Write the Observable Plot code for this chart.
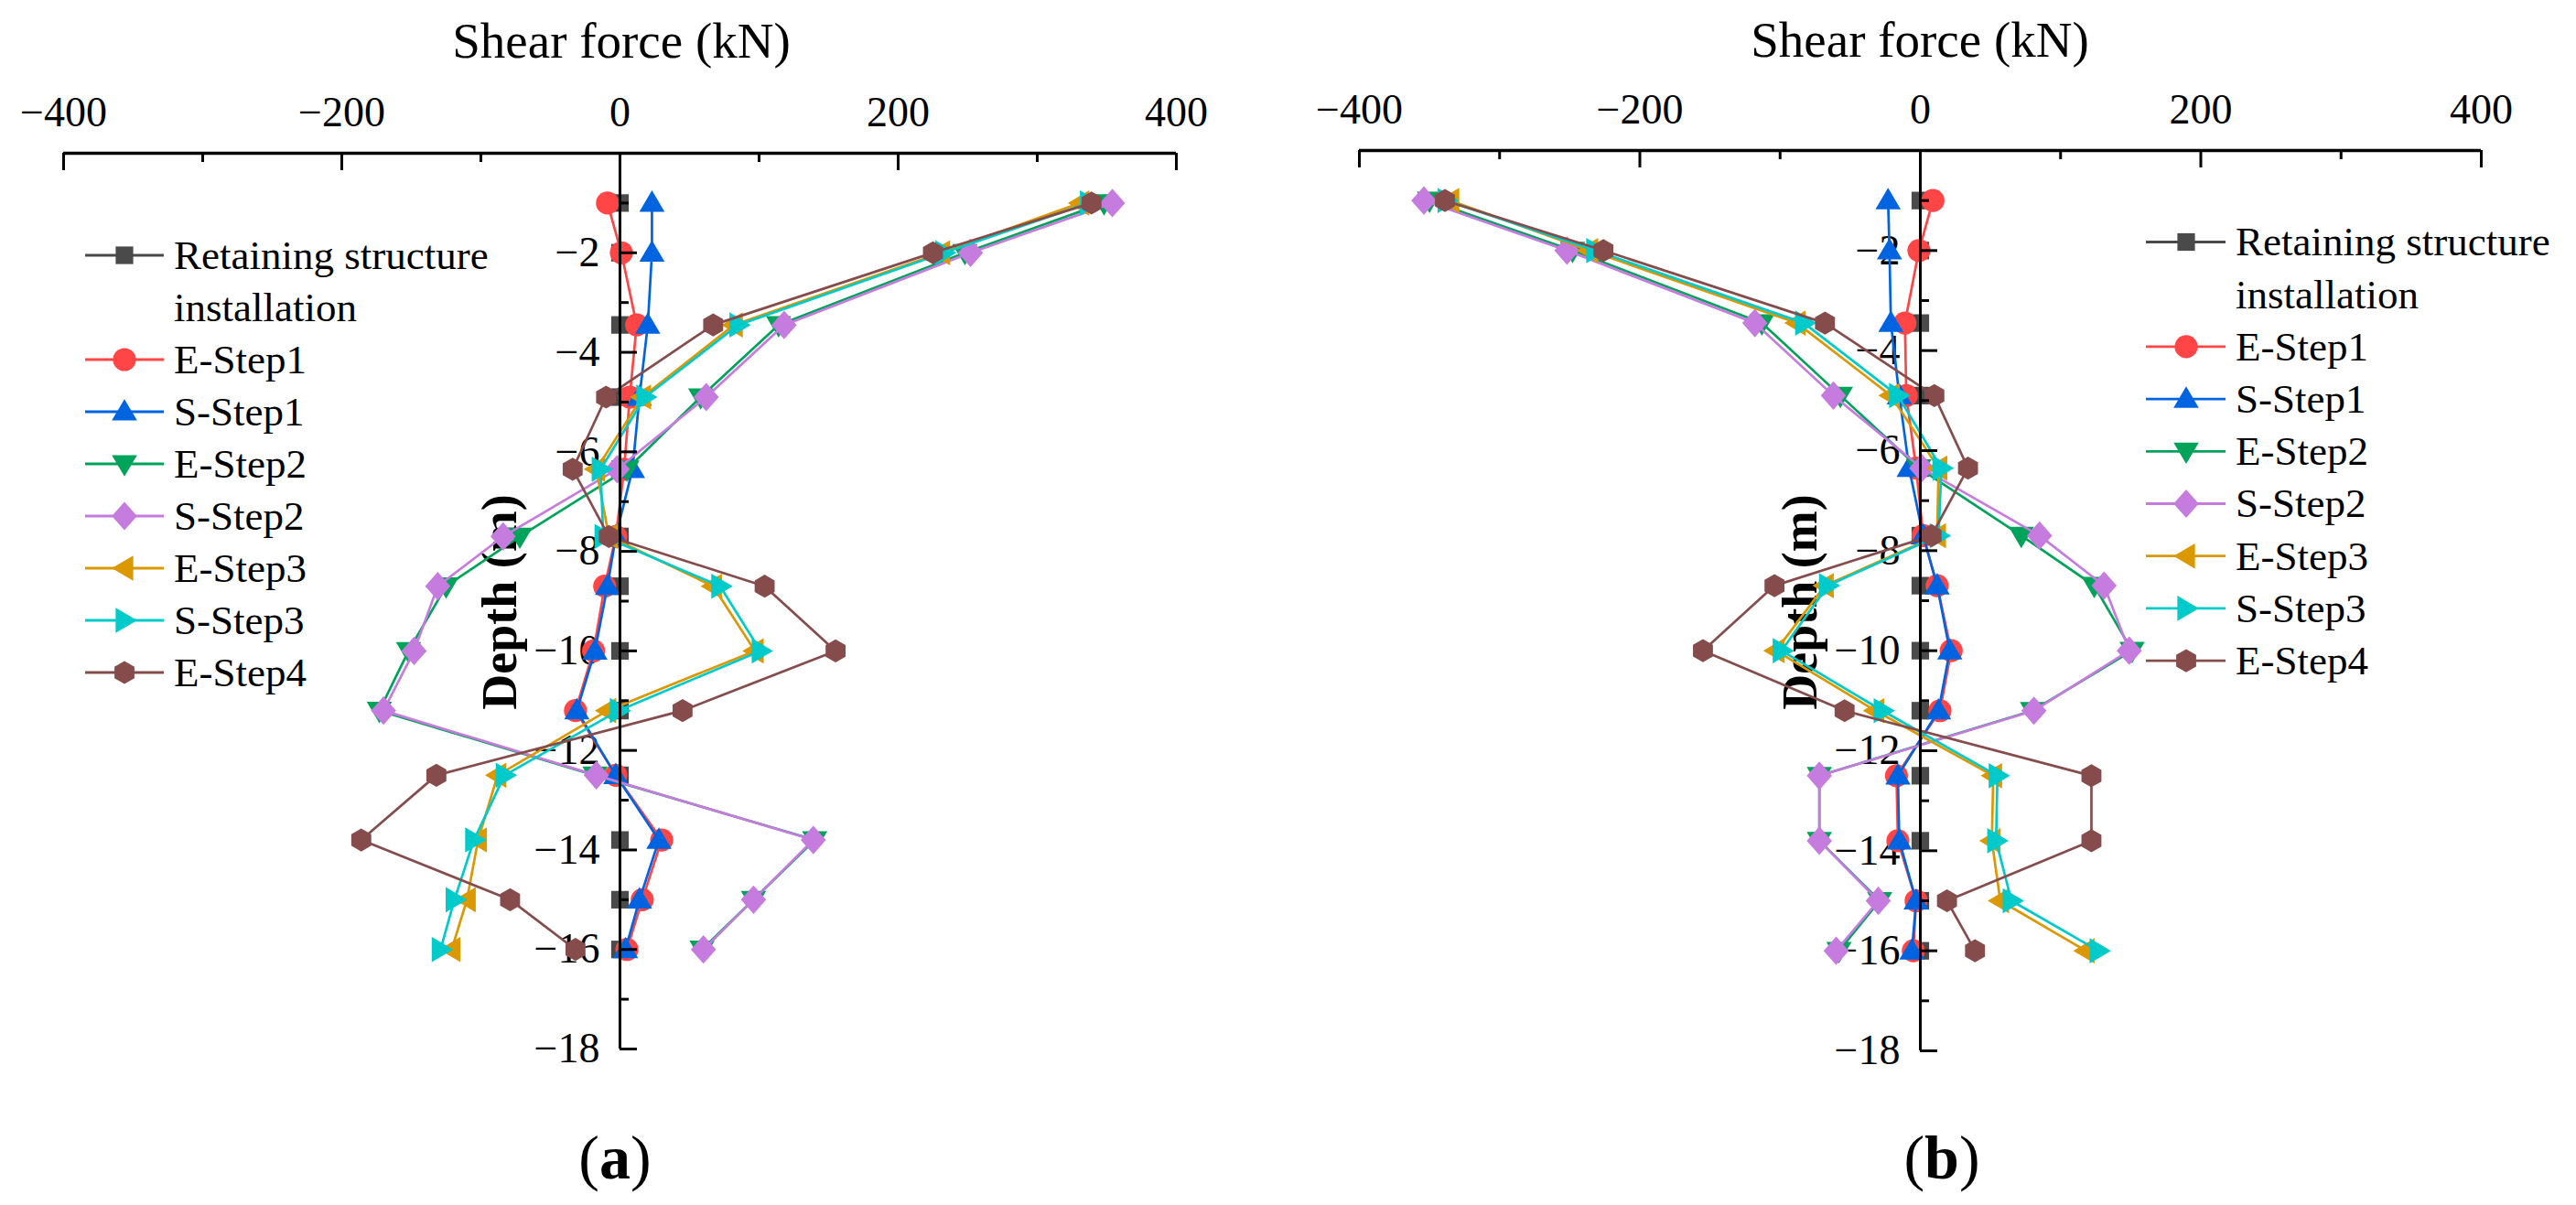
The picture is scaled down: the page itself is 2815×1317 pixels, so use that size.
<!DOCTYPE html>
<html>
<head>
<meta charset="utf-8">
<script src="https://cdn.jsdelivr.net/npm/d3@7"></script>
<script src="https://cdn.jsdelivr.net/npm/@observablehq/plot@0.6"></script>
<style>
html, body { margin: 0; padding: 0; background: #fff; }
#page { position: relative; width: 2815px; height: 1317px; overflow: hidden; background: #fff;
        font-family: "Liberation Serif", "Times New Roman", serif; color: #000; }
.abs { position: absolute; white-space: nowrap; }
</style>
</head>
<body>
<div id="page"></div>
<script>
// ---------------- data ----------------
const depth = [-1, -2, -3.45, -4.9, -6.35, -7.7, -8.7, -10, -11.2, -12.5, -13.8, -15, -16];

const seriesNames = ["Retaining structure\ninstallation", "E-Step1", "S-Step1", "E-Step2", "S-Step2", "E-Step3", "S-Step3", "E-Step4"];
const seriesColors = ["#4a4a4a", "#ff4545", "#0064e1", "#00a35a", "#c67bdf", "#db9800", "#00caca", "#864c4c"];

// panel (a)
const retainingA = [0, 0, 0, 0, 0, 0, 0, 0, 0, 0, 0, 0, 0];
const eStep1A = [-9, 1, 12, 7, 3, -3, -11, -19, -32, -3, 30, 16, 5];
const sStep1A = [23, 23, 20, 14, 9, -3, -9, -18, -31, -3, 28, 14, 4];
const eStep2A = [348, 248, 114, 58, 5, -72, -125, -152, -173, -18, 140, 96, 59];
const sStep2A = [354, 252, 118, 62, -2, -84, -131, -148, -170, -17, 139, 96, 60];
const eStep3A = [331, 231, 82, 16, -17, -8, 67, 97, -9, -88, -102, -110, -121];
const sStep3A = [337, 233, 85, 18, -14, -12, 72, 101, -1, -83, -105, -119, -129];
const eStep4A = [339, 225, 67, -10, -34, -8, 104, 155, 45, -132, -186, -79, -32];

// panel (b)
const retainingB = [0, 0, 0, 0, 0, 0, 0, 0, 0, 0, 0, 0, 0];
const eStep1B = [9, -1, -11, -10, -3, 2, 12, 22, 14, -17, -16, -3, -5];
const sStep1B = [-23, -22, -21, -15, -8, 2, 12, 21, 13, -16, -15, -3, -6];
const eStep2B = [-350, -248, -113, -57, -1, 72, 124, 151, 80, -72, -72, -29, -58];
const sStep2B = [-354, -252, -118, -62, 1, 85, 131, 149, 81, -72, -72, -30, -60];
const eStep3B = [-335, -236, -88, -21, 13, 12, -68, -103, -32, 52, 51, 57, 118];
const sStep3B = [-338, -232, -83, -16, 15, 13, -66, -99, -27, 55, 54, 65, 127];
const eStep4B = [-339, -226, -68, 10, 34, 8, -104, -155, -54, 122, 122, 19, 39];

// ticks
const xTickValues = [-400, -200, 0, 200, 400];
const xMinorTicks = [-300, -100, 100, 300];
const yTickValues = [-2, -4, -6, -8, -10, -12, -14, -16, -18];
const yMinorTicks = [-1, -3, -5, -7, -9, -11, -13, -15, -17];

const xTitle = "Shear force (kN)";
const yTitle = "Depth (m)";
const panelLabels = ["a", "b"];

// ---------------- symbols ----------------
const FONT = "Liberation Serif";
function poly(pts) {
  return {draw(ctx, size) {
    const r = Math.sqrt(size / Math.PI);
    ctx.moveTo(pts[0][0] * r, pts[0][1] * r);
    for (let i = 1; i < pts.length; i++) ctx.lineTo(pts[i][0] * r, pts[i][1] * r);
    ctx.closePath();
  }};
}
const symSquare = poly([[-0.8, -0.8], [0.8, -0.8], [0.8, 0.8], [-0.8, 0.8]]);
const symCircle = {draw(ctx, size) { const r = Math.sqrt(size / Math.PI) * 1.05; ctx.moveTo(r, 0); ctx.arc(0, 0, r, 0, 2 * Math.PI); ctx.closePath(); }};
const symUp = poly([[0, -1.15], [1.15, 0.8], [-1.15, 0.8]]);
const symDown = poly([[0, 1.15], [1.15, -0.8], [-1.15, -0.8]]);
const symLeft = poly([[-1.15, 0], [0.8, -1.15], [0.8, 1.15]]);
const symRight = poly([[1.15, 0], [-0.8, -1.15], [-0.8, 1.15]]);
const symDiamond = poly([[0, -1.3], [1.15, 0], [0, 1.3], [-1.15, 0]]);
const hh = 1.05, hc = 0.866 * 1.05;
const symHex = poly([[0, -hh], [hc, -hh / 2], [hc, hh / 2], [0, hh], [-hc, hh / 2], [-hc, -hh / 2]]);
const seriesSymbols = [symSquare, symCircle, symUp, symDown, symDiamond, symLeft, symRight, symHex];
const R = 12;

const fmt = d => d < 0 ? "\u2212" + Math.abs(d) : String(d);

function makePanel(vals, dims) {
  const marks = [];
  // tick labels (beneath data)
  marks.push(Plot.text(yTickValues, {x: () => 0, y: d => d, text: fmt, textAnchor: "end", lineAnchor: "middle",
    dx: -22, fontSize: 46, fontFamily: FONT, fill: "#000"}));
  marks.push(Plot.text(xTickValues, {x: d => d, y: () => 0, text: fmt, textAnchor: "middle", lineAnchor: "bottom",
    dy: -30, fontSize: 46, fontFamily: FONT, fill: "#000"}));
  // data
  vals.forEach((v, k) => {
    const rows = depth.map((d, i) => ({d, v: v[i]}));
    marks.push(Plot.line(rows, {x: "v", y: "d", stroke: seriesColors[k], strokeWidth: 2.7}));
    marks.push(Plot.dot(rows, {x: "v", y: "d", symbol: seriesSymbols[k], fill: seriesColors[k], stroke: "none", r: R}));
  });
  // axes on top
  marks.push(Plot.ruleX([0], {stroke: "#000", strokeWidth: 3}));
  marks.push(Plot.ruleY(yTickValues, {y: d => d, x1: () => 0, x2: () => 0, insetRight: -19, stroke: "#000", strokeWidth: 3}));
  marks.push(Plot.ruleY(yMinorTicks, {y: d => d, x1: () => 0, x2: () => 0, insetRight: -10, stroke: "#000", strokeWidth: 3}));
  marks.push(Plot.ruleX(xTickValues, {x: d => d, y1: () => 0, y2: () => 0, insetBottom: -19, stroke: "#000", strokeWidth: 3}));
  marks.push(Plot.ruleX(xMinorTicks, {x: d => d, y1: () => 0, y2: () => 0, insetBottom: -10, stroke: "#000", strokeWidth: 3}));
  marks.push(Plot.ruleY([0], {stroke: "#000", strokeWidth: 3.5}));
  return Plot.plot({
    width: dims.width, height: dims.height,
    marginLeft: dims.marginLeft, marginRight: dims.marginRight,
    marginTop: dims.marginTop, marginBottom: dims.marginBottom,
    x: {domain: [-400, 400], axis: null},
    y: {domain: [-18, 0], axis: null},
    style: {background: "transparent", fontFamily: FONT, overflow: "visible"},
    marks
  });
}

const page = document.getElementById("page");

function placeText(html, {cx, baseline, size, weight = "normal"}) {
  const d = document.createElement("div");
  d.className = "abs";
  d.style.left = (cx - 600) + "px";
  d.style.width = "1200px";
  d.style.textAlign = "center";
  d.style.fontSize = size + "px";
  d.style.lineHeight = size + "px";
  d.style.fontWeight = weight;
  d.style.top = (baseline - 0.8375 * size) + "px";
  d.innerHTML = html;
  page.appendChild(d);
}
function placeRotated(txt, {cx, cy, size}) {
  const d = document.createElement("div");
  d.className = "abs";
  d.style.width = "400px";
  d.style.height = size + "px";
  d.style.left = (cx - 200) + "px";
  d.style.top = (cy - size / 2) + "px";
  d.style.textAlign = "center";
  d.style.fontSize = size + "px";
  d.style.lineHeight = size + "px";
  d.style.fontWeight = "bold";
  d.style.transform = "rotate(-90deg)";
  d.textContent = txt;
  page.appendChild(d);
}

// y-axis titles (beneath the plots)
placeRotated(yTitle, {cx: 546, cy: 658, size: 54});
placeRotated(yTitle, {cx: 1967, cy: 658, size: 54});

// plots
const svgA = makePanel([retainingA, eStep1A, sStep1A, eStep2A, sStep2A, eStep3A, sStep3A, eStep4A],
  {width: 1400, height: 1200, marginLeft: 69, marginRight: 115, marginTop: 167, marginBottom: 54});
svgA.style.position = "absolute"; svgA.style.left = "0px"; svgA.style.top = "0px";
page.appendChild(svgA);

const svgB = makePanel([retainingB, eStep1B, sStep1B, eStep2B, sStep2B, eStep3B, sStep3B, eStep4B],
  {width: 1415, height: 1200, marginLeft: 85, marginRight: 104, marginTop: 164, marginBottom: 52});
svgB.style.position = "absolute"; svgB.style.left = "1400px"; svgB.style.top = "0px";
page.appendChild(svgB);

// titles and captions
placeText(xTitle, {cx: 679, baseline: 63, size: 55});
placeText(xTitle, {cx: 2098, baseline: 62, size: 55});
placeText("(<b>" + panelLabels[0] + "</b>)", {cx: 672, baseline: 1288, size: 68});
placeText("(<b>" + panelLabels[1] + "</b>)", {cx: 2122, baseline: 1288, size: 68});

// legends
function makeLegend({y0, step, lx0, lx1, mx, tx, fontSize}) {
  const svg = d3.create("svg")
    .attr("width", 2815).attr("height", 1317)
    .style("position", "absolute").style("left", "0px").style("top", "0px")
    .style("overflow", "visible");
  let row = 0;
  seriesNames.forEach((name, k) => {
    const cy = y0 + row * step;
    const g = svg.append("g");
    g.append("line").attr("x1", lx0).attr("x2", lx1).attr("y1", cy).attr("y2", cy)
      .attr("stroke", seriesColors[k]).attr("stroke-width", 2.8);
    const p = d3.path();
    seriesSymbols[k].draw(p, R * R * Math.PI);
    g.append("path").attr("d", p.toString()).attr("transform", `translate(${mx},${cy})`)
      .attr("fill", seriesColors[k]);
    const lines = name.split("\n");
    lines.forEach((ln, j) => {
      g.append("text").attr("x", tx).attr("y", cy + j * step + 0.33 * fontSize)
        .attr("font-family", FONT).attr("font-size", fontSize).attr("fill", "#000").text(ln);
    });
    row += lines.length;
  });
  page.appendChild(svg.node());
}
makeLegend({y0: 279, step: 57, lx0: 93, lx1: 179, mx: 136, tx: 190, fontSize: 45});
makeLegend({y0: 264.5, step: 57.2, lx0: 2345, lx1: 2432, mx: 2389, tx: 2443, fontSize: 45});
</script>
</body>
</html>
